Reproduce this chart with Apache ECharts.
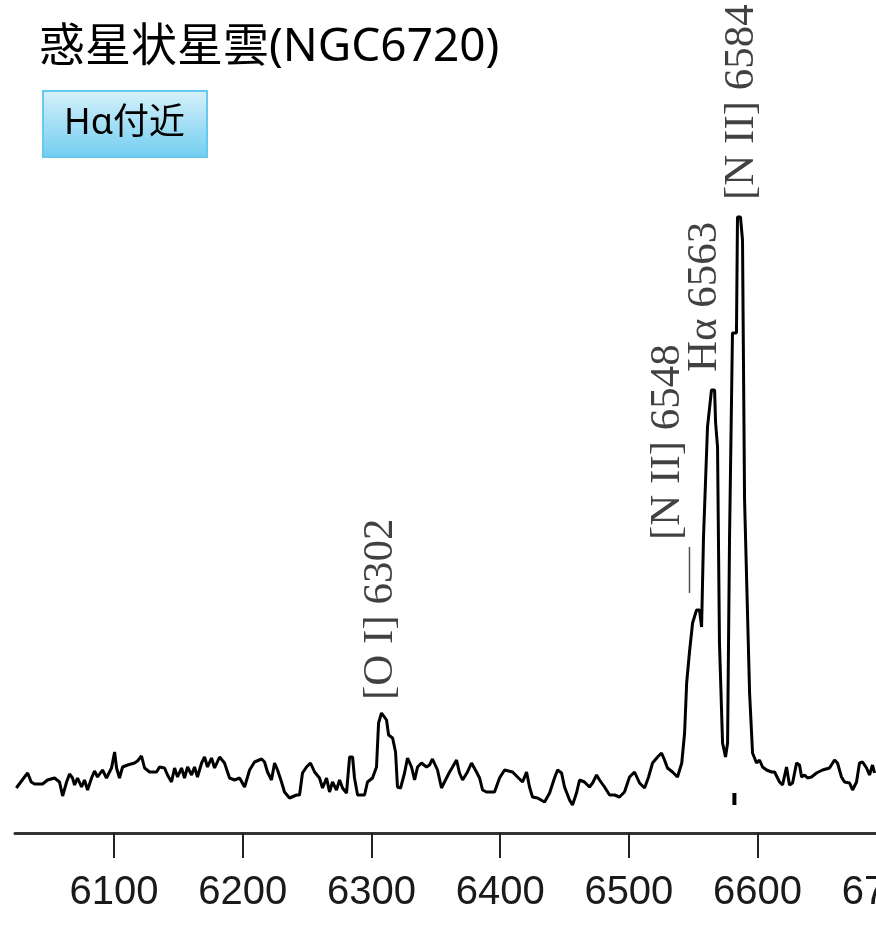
<!DOCTYPE html>
<html><head><meta charset="utf-8">
<script src="https://cdn.jsdelivr.net/npm/echarts@6/dist/echarts.min.js"></script>
<style>html,body{margin:0;padding:0;background:#fff}#c{width:876px;height:938px}</style>
</head><body><div id="c"></div>
<script>
const titleText = '惑星状星雲(NGC6720)';
const badgeText = 'Hα付近';
const wavelengths = [6024.0,6030.4,6032.8,6035.6,6038.2,6044.4,6048.3,6053.7,6057.6,6060.0,6063.1,6065.4,6067.7,6069.3,6071.6,6074.7,6077.0,6079.4,6082.5,6084.8,6087.1,6091.0,6094.1,6098.0,6100.4,6101.9,6104.2,6106.6,6110.5,6115.9,6118.2,6121.3,6123.7,6127.6,6133.0,6135.3,6139.2,6141.5,6144.6,6147.0,6149.3,6152.4,6154.7,6157.1,6160.2,6162.5,6164.8,6168.0,6170.3,6172.6,6175.7,6178.1,6182.0,6185.8,6189.7,6193.6,6197.5,6201.4,6205.3,6209.1,6214.6,6216.9,6219.2,6222.3,6224.7,6227.0,6230.1,6232.4,6236.3,6241.8,6244.1,6246.4,6249.5,6252.6,6255.8,6259.6,6262.0,6265.1,6267.4,6269.7,6272.8,6275.2,6277.5,6280.6,6283.0,6285.3,6286.8,6289.2,6294.6,6296.9,6300.8,6303.9,6305.5,6307.8,6311.7,6313.3,6316.4,6318.7,6320.2,6322.6,6325.7,6328.0,6331.1,6333.5,6335.8,6338.9,6342.8,6345.1,6347.4,6351.3,6354.4,6358.3,6360.7,6363.0,6366.1,6368.4,6370.8,6374.6,6377.7,6381.6,6384.0,6386.3,6389.4,6395.6,6399.5,6403.4,6409.6,6413.5,6417.4,6420.5,6422.8,6425.1,6429.0,6434.5,6438.4,6442.2,6444.6,6447.7,6450.0,6453.9,6456.2,6459.3,6461.7,6465.5,6469.4,6471.8,6474.9,6477.2,6481.1,6485.0,6488.9,6492.7,6496.6,6500.5,6504.4,6508.3,6512.2,6515.3,6518.4,6522.3,6525.4,6527.7,6530.0,6533.9,6537.8,6541.1,6543.3,6544.9,6547.1,6549.5,6552.6,6554.9,6556.5,6558.0,6561.1,6564.2,6566.6,6567.4,6568.9,6570.4,6572.8,6575.1,6576.7,6578.2,6580.5,6583.6,6584.4,6586.7,6588.3,6589.9,6591.4,6593.8,6596.1,6599.2,6601.5,6603.9,6607.0,6610.8,6613.2,6617.1,6619.4,6622.5,6624.8,6627.2,6630.3,6632.6,6634.2,6636.5,6638.8,6641.9,6645.8,6650.5,6655.9,6659.8,6662.1,6665.2,6667.6,6671.5,6673.8,6676.9,6679.2,6681.6,6684.7,6687.0,6689.3,6690.9];
const intensity = [45,56,60,51,49,49,53,55,51,37,51,59,55,48,55,46,53,43,55,62,56,63,55,65,81,65,55,66,68,70,72,77,65,61,61,66,65,58,51,65,56,65,55,66,58,66,56,70,76,66,75,65,76,70,55,53,55,46,63,71,74,71,61,53,70,63,51,41,35,38,38,60,66,70,61,55,45,55,41,51,43,53,45,40,76,76,55,38,38,51,55,66,110,120,113,98,95,81,46,45,60,75,66,53,66,70,66,68,74,63,45,55,61,66,73,60,53,61,70,61,55,43,41,41,55,63,61,56,51,61,46,36,35,31,40,55,63,60,46,33,28,40,53,51,46,50,58,53,46,38,38,36,41,56,61,50,45,56,70,76,80,73,65,61,56,70,100,150,181,210,223,223,206,296,406,443,443,410,386,190,90,76,90,293,500,500,616,616,593,333,333,140,80,70,73,66,63,61,61,51,48,66,48,50,70,68,56,58,55,56,60,63,65,73,70,56,51,50,43,51,70,71,65,58,68,60];
const tickValues = [6100,6200,6300,6400,6500,6600,6700];
const lineNames = ['[O I] 6302','[N II] 6548','Hα 6563','[N II] 6584'];
const lineLabelWl = [6307.0,6530.4,6558.8,6587.5];
const lineLabelI = [133,293,461,633];
const leaderWl = [6547.1,6547.1];
const leaderI = [240,286];
const markWl = [6582.0,6582.0];
const markI = [28,40];

const chart = echarts.init(document.getElementById('c'), null, {renderer:'canvas'});
const spec = wavelengths.map((w,i)=>[w,intensity[i]]);
chart.setOption({
  animation:false,
  backgroundColor:'#fff',
  title:{text:titleText,left:34,top:20,textStyle:{fontFamily:"'Noto Sans','Noto Sans CJK JP',sans-serif",fontSize:46,fontWeight:'normal',color:'#000'}},
  graphic:[{type:'group',left:42,top:90,children:[
    {type:'rect',shape:{x:0,y:0,width:164,height:66},style:{fill:new echarts.graphic.LinearGradient(0,0,0,1,[{offset:0,color:'#d8f1fb'},{offset:1,color:'#70cdf0'}]),stroke:'#68c9ee',lineWidth:2}},
    {type:'text',x:21,y:33,style:{text:badgeText,fontFamily:"'Noto Sans','Noto Sans CJK JP',sans-serif",fontSize:36,fill:'#000',verticalAlign:'middle',align:'left'}}
  ]}],
  grid:{left:15,right:-36,top:33,bottom:105,containLabel:false,outerBoundsMode:'none'},
  xAxis:{type:'value',min:6023,max:6720,
    axisLine:{show:true,lineStyle:{color:'#333',width:3}},
    axisTick:{show:true,length:25,customValues:tickValues,lineStyle:{color:'#222',width:2}},
    axisLabel:{show:true,customValues:tickValues,margin:40,formatter:v=>String(v),fontFamily:"'Liberation Sans Narrow','Liberation Sans',sans-serif",fontSize:40,color:'#1a1a1a'},
    splitLine:{show:false}},
  yAxis:{type:'value',min:0,max:800,show:false},
  series:[
    {type:'line',data:spec,showSymbol:false,silent:true,lineStyle:{color:'#000',width:3}},
    {type:'line',data:leaderWl.map((w,i)=>[w,leaderI[i]]),showSymbol:false,silent:true,lineStyle:{color:'#555',width:1.5}},
    {type:'line',data:markWl.map((w,i)=>[w,markI[i]]),showSymbol:false,silent:true,lineStyle:{color:'#000',width:4}},
    {type:'scatter',symbolSize:0,silent:true,
      data:lineNames.map((n,i)=>({name:n,value:[lineLabelWl[i],lineLabelI[i]]})),
      label:{show:true,position:'top',distance:0,rotate:90,align:'left',verticalAlign:'middle',formatter:p=>p.name,fontFamily:"'Liberation Serif','Times New Roman',serif",fontSize:43,color:'#111'}}
  ]
});
</script></body></html>
